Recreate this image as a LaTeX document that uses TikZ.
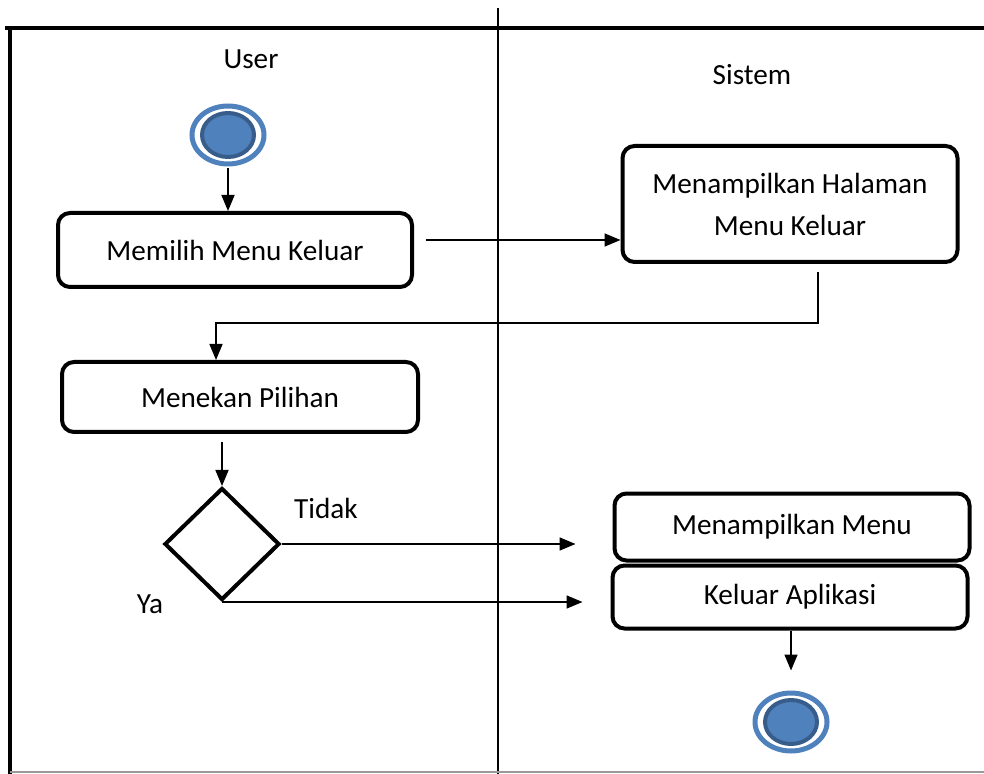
\documentclass[tikz,border=0pt]{standalone}
\usepackage{fontspec}
\setmainfont{Carlito}
\usetikzlibrary{arrows.meta, positioning, shapes.geometric, calc}
\definecolor{ringblue}{HTML}{4F81BD}
\definecolor{dotedge}{HTML}{385D8A}

\begin{document}
\begin{tikzpicture}[
    x=0.5pt, y=-0.5pt,
    font=\fontsize{14.6}{20}\selectfont,
    block/.style={
      rectangle, rounded corners=6pt,
      draw=black, line width=2pt,
      text centered, align=center,
      inner sep=4pt
    },
    choice/.style={
      diamond, draw=black, line width=2pt,
      minimum width=57.5pt, minimum height=56pt,
      inner sep=0pt
    },
    terminal/.style={
      ellipse, draw=ringblue, line width=2.5pt,
      minimum width=36pt, minimum height=29pt,
      inner sep=0pt,
      path picture={
        \filldraw[fill=ringblue, draw=dotedge, line width=2pt]
          (path picture bounding box.center) ellipse [x radius=13pt, y radius=11pt];
      }
    },
    arrow/.style={-{Triangle[length=8pt, width=6.5pt]}, line width=0.8pt, draw=black},
    lane/.style={draw=black, line width=2pt}
  ]
    \useasboundingbox (0,0) rectangle (984,774);

    % swimlanes
    \draw[lane] (5,28) -- (984,28);
    \draw[lane] (10,28) -- (10,774);
    \draw[black, line width=0.7pt] (498,8) -- (498,774);
    \draw[black!40, line width=0.8pt] (10,772) -- (984,772);

    \node (user) at (251,59) {User};
    \node (sistem) at (752,75) {Sistem};

    % activities
    \node[terminal] (start) at (228,135) {};
    \node[block, minimum width=177pt, minimum height=37pt] (memilih) at (235,250) {Memilih Menu Keluar};
    \node[block, minimum width=167.5pt, minimum height=58pt] (halaman) at (790,204) {Menampilkan Halaman\\[1pt]Menu Keluar};
    \node[block, minimum width=178pt, minimum height=35pt] (menekan) at (240,397) {Menekan Pilihan};
    \node[choice] (pilih) at (222,544) {};
    \node[block, minimum width=177.5pt, minimum height=33.5pt] (tampil) at (792,527) {Menampilkan Menu};
    \node[block, minimum width=177.5pt, minimum height=31.5pt] (keluar) at (790,597) {Keluar Aplikasi};
    \node[terminal] (finish) at (791,722) {};

    \node (tidak) at (326,508) {Tidak};
    \node (ya) at (150,604) {Ya};

    \coordinate (outR) at ($(memilih.east)+(0,-10)$);
    \coordinate (bendR) at (818,323);
    \coordinate (bendL) at (216,323);

    % flows
    \draw[arrow, shorten <=1pt] (start.south) -- (start.south |- memilih.north);
    \draw[arrow, shorten <=6pt] (outR) -- (outR -| halaman.west);
    \draw[arrow, shorten <=4pt] (halaman.south -| bendR) -- (bendR) -- (bendL) -- (menekan.north -| bendL);
    \draw[arrow, shorten <=4pt] (menekan.south -| pilih.north) -- (pilih.north);
    \draw[arrow, shorten >=18.5pt] (pilih.east) -- (pilih.east -| tampil.west);
    \draw[arrow, shorten >=14pt] (pilih.south) -- (pilih.south -| keluar.west);
    \draw[arrow, shorten >=10pt] (keluar.south -| finish.north) -- (finish.north);
\end{tikzpicture}
\end{document}
